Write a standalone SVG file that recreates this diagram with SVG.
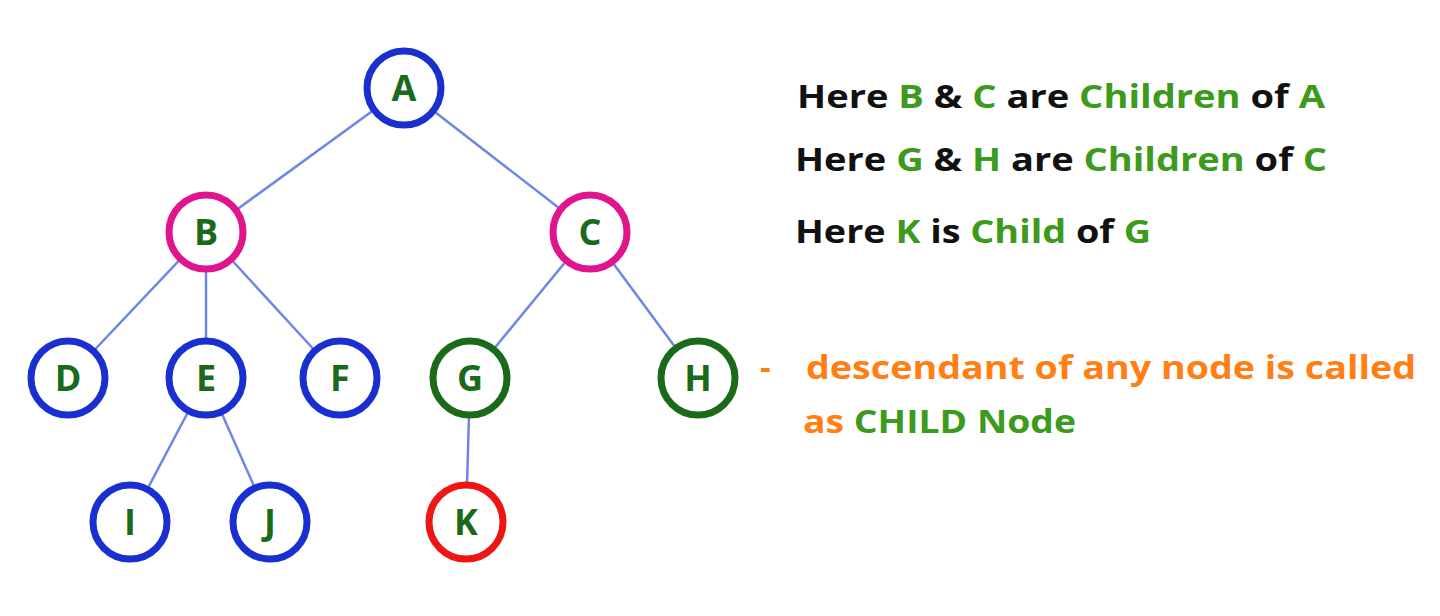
<svg xmlns="http://www.w3.org/2000/svg" width="1440" height="616" viewBox="0 0 1440 616">
<style>
.e{stroke:#6f86e6;stroke-width:2.5}
circle{fill:#fff;stroke-width:7}
.b{stroke:#1a2fd0}.p{stroke:#e0148c}.g{stroke:#1a6a1a}.r{stroke:#ee1515}
.n{font-family:"Open Sans","Liberation Sans",sans-serif;font-weight:bold;font-size:36px;fill:#1a6a1a;text-anchor:middle}
.t{font-family:"Open Sans","Liberation Sans",sans-serif;font-weight:bold;font-size:33px;fill:#111}
.gr{fill:#3c9a1c}.o{fill:#ff7f14}
</style>
<rect width="1440" height="616" fill="#fff"/>
<g id="edges">
<line class="e" x1="404" y1="88" x2="206" y2="232"/>
<line class="e" x1="404" y1="88" x2="590" y2="232"/>
<line class="e" x1="206" y1="232" x2="68" y2="378"/>
<line class="e" x1="206" y1="232" x2="206" y2="378"/>
<line class="e" x1="206" y1="232" x2="340" y2="378"/>
<line class="e" x1="590" y1="232" x2="470" y2="378"/>
<line class="e" x1="590" y1="232" x2="698" y2="378"/>
<line class="e" x1="206" y1="378" x2="130" y2="522"/>
<line class="e" x1="206" y1="378" x2="270" y2="522"/>
<line class="e" x1="470" y1="378" x2="466" y2="522"/>
</g>
<g id="A"><circle class="b" cx="404" cy="88" r="37"/><text class="n" x="404" y="101">A</text></g>
<g id="B"><circle class="p" cx="206" cy="232" r="37"/><text class="n" x="206" y="245">B</text></g>
<g id="C"><circle class="p" cx="590" cy="232" r="37"/><text class="n" x="590" y="245">C</text></g>
<g id="D"><circle class="b" cx="68" cy="378" r="37"/><text class="n" x="68" y="391">D</text></g>
<g id="E"><circle class="b" cx="206" cy="378" r="37"/><text class="n" x="206" y="391">E</text></g>
<g id="F"><circle class="b" cx="340" cy="378" r="37"/><text class="n" x="340" y="391">F</text></g>
<g id="G"><circle class="g" cx="470" cy="378" r="37"/><text class="n" x="470" y="391">G</text></g>
<g id="H"><circle class="g" cx="698" cy="378" r="37"/><text class="n" x="698" y="391">H</text></g>
<g id="I"><circle class="b" cx="130" cy="522" r="37"/><text class="n" x="130" y="535">I</text></g>
<g id="J"><circle class="b" cx="270" cy="522" r="37"/><text class="n" x="270" y="535">J</text></g>
<g id="K"><circle class="r" cx="466" cy="522" r="37"/><text class="n" x="466" y="535">K</text></g>
<g id="notes">
<text class="t" x="797" y="108" textLength="528" lengthAdjust="spacingAndGlyphs">Here <tspan class="gr">B</tspan> &amp; <tspan class="gr">C</tspan> are <tspan class="gr">Children</tspan> of <tspan class="gr">A</tspan></text>
<text class="t" x="795" y="171" textLength="532" lengthAdjust="spacingAndGlyphs">Here <tspan class="gr">G</tspan> &amp; <tspan class="gr">H</tspan> are <tspan class="gr">Children</tspan> of <tspan class="gr">C</tspan></text>
<text class="t" x="795" y="243" textLength="356" lengthAdjust="spacingAndGlyphs">Here <tspan class="gr">K</tspan> is <tspan class="gr">Child</tspan> of <tspan class="gr">G</tspan></text>
<text class="t o" x="760" y="379">-</text>
<text class="t o" x="806" y="379" textLength="610" lengthAdjust="spacingAndGlyphs">descendant of any node is called</text>
<text class="t o" x="803" y="433" textLength="273" lengthAdjust="spacingAndGlyphs">as <tspan class="gr">CHILD Node</tspan></text>
</g>
</svg>
